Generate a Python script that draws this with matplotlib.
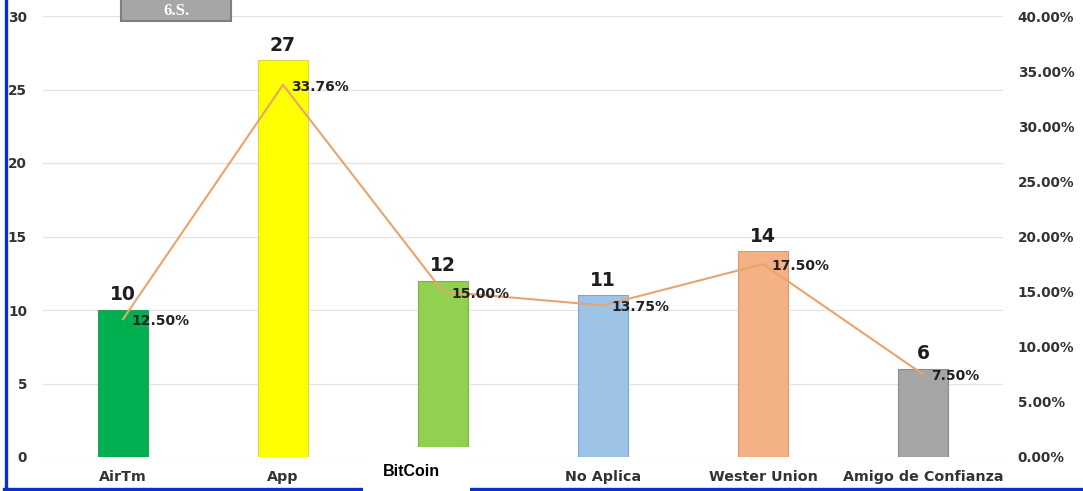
import matplotlib
matplotlib.use("Agg")
import matplotlib.pyplot as plt
from matplotlib.patches import Rectangle
from matplotlib.lines import Line2D
from matplotlib.ticker import PercentFormatter

categories = ["AirTm", "App", "BitCoin", "No Aplica", "Wester Union", "Amigo de Confianza"]
counts = [10, 27, 12, 11, 14, 6]
percents = [12.50, 33.76, 15.00, 13.75, 17.50, 7.50]
bar_colors = ["#00B050", "#FFFF00", "#92D050", "#9DC3E6", "#F4B183", "#A5A5A5"]
edge_colors = ["#2E9E5B", "#D8D84A", "#7FB34A", "#7FA8CF", "#D89A70", "#8C8C8C"]
left_ticks = [0, 5, 10, 15, 20, 25, 30]
right_ticks = [0, 5, 10, 15, 20, 25, 30, 35, 40]

W, H = 1083, 491
fig = plt.figure(figsize=(W / 100, H / 100), dpi=100)
fig.patch.set_facecolor("white")

ax_left_px, ax_right_px = 43, 1003
ax_top_px, ax_bot_px = 16, 457
ax = fig.add_axes([ax_left_px / W, (H - ax_bot_px) / H,
                   (ax_right_px - ax_left_px) / W, (ax_bot_px - ax_top_px) / H])
ax2 = ax.twinx()

x = list(range(len(categories)))
ax.bar(x, counts, width=0.31, color=bar_colors, edgecolor=edge_colors, linewidth=0.8, zorder=2)
ax.set_xlim(-0.5, len(categories) - 0.5)
ax.set_ylim(0, 30)
ax.set_yticks(left_ticks)
ax.grid(axis="y", color="#E3E3E3", linewidth=0.9, zorder=0)
ax.set_axisbelow(True)
for s in ax.spines.values():
    s.set_visible(False)
for s in ax2.spines.values():
    s.set_visible(False)

ax.tick_params(axis="y", length=0, pad=11.5, labelsize=9.8, labelcolor="#333333")
ax.tick_params(axis="x", length=0, pad=9.5, labelsize=10.3, labelcolor="#333333")
ax.set_xticks(x)
ax.set_xticklabels(categories, fontweight="bold")
for lbl in ax.get_yticklabels():
    lbl.set_fontweight("bold")
ax.get_xticklabels()[2].set_visible(False)

for xi, c in zip(x, counts):
    ax.annotate(str(c), (xi, c), xytext=(0, 4), textcoords="offset points",
                ha="center", va="bottom", fontsize=13.5, fontweight="bold", color="#1E1E1E")

ax2.plot(x, percents, color="#E9A46E", linewidth=1.5, zorder=3)
ax2.set_ylim(0, 40)
ax2.set_yticks(right_ticks)
ax2.yaxis.set_major_formatter(PercentFormatter(decimals=2))
ax2.tick_params(axis="y", length=0, pad=10.5, labelsize=9.8, labelcolor="#333333")
for lbl in ax2.get_yticklabels():
    lbl.set_fontweight("bold")
for xi, p in zip(x, percents):
    ax2.annotate(f"{p:.2f}%", (xi, p), xytext=(6, -1.5), textcoords="offset points",
                 ha="left", va="center", fontsize=10, fontweight="bold", color="#222222", zorder=4)

# blue frame lines
fig.add_artist(Line2D([5.5 / W, 5.5 / W], [0, 1], color="#0A2FD0", linewidth=2.4,
                      transform=fig.transFigure, zorder=5))
fig.add_artist(Line2D([4 / W, 1], [2 / H, 2 / H], color="#0A2FD0", linewidth=2.4,
                      transform=fig.transFigure, zorder=5))

# white overlay box with BitCoin label
fig.add_artist(Rectangle((363 / W, 0), (470 - 363) / W, (H - 447) / H,
                         transform=fig.transFigure, facecolor="white", edgecolor="none", zorder=6))
fig.text(411 / W, (H - 472) / H, categories[2], ha="center", va="center",
         fontsize=11.5, fontweight="bold", family="Liberation Sans", color="black", zorder=7)

# grey title box at the top edge
fig.add_artist(Rectangle((121 / W, (H - 21) / H), (231 - 121) / W, 30 / H,
                         transform=fig.transFigure, facecolor="#A6A6A6", edgecolor="#7F7F7F",
                         linewidth=1.5, zorder=6))
fig.text(176 / W, (H - 11) / H, "6.S.", ha="center", va="center", fontsize=12,
         fontweight="bold", family="Liberation Serif", color="white", zorder=7)

fig.savefig("out.png", dpi=100, facecolor="white")
